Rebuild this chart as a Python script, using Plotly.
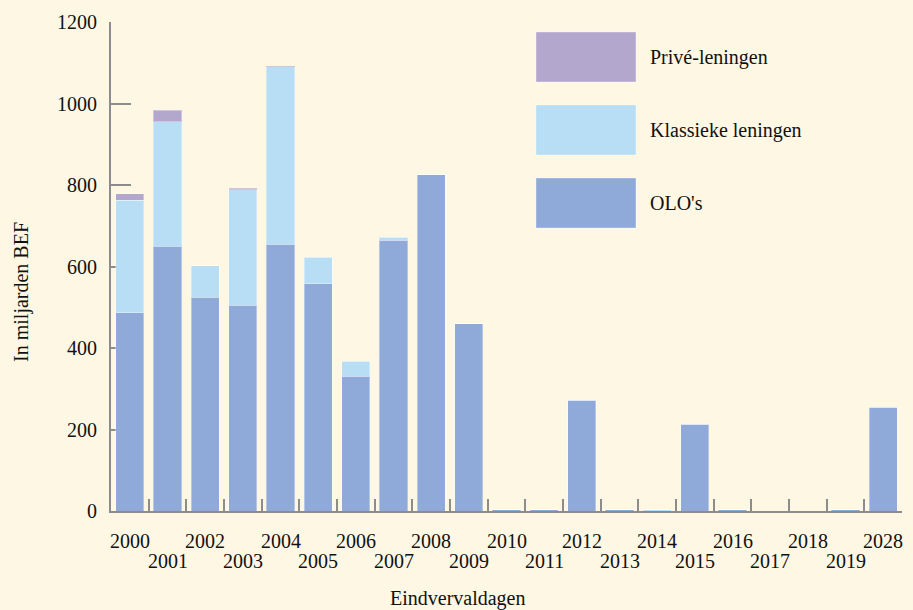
import plotly.graph_objects as go

years = ["2000", "2001", "2002", "2003", "2004", "2005", "2006", "2007", "2008", "2009",
         "2010", "2011", "2012", "2013", "2014", "2015", "2016", "2017", "2018", "2019", "2028"]
olo = [486, 650, 525, 505, 655, 558, 331, 665, 825, 459,
       3, 3, 272, 3, 0, 213, 3, 0, 0, 3, 255]
klassiek = [277, 305, 77, 283, 435, 65, 37, 7, 0, 0,
            0, 0, 0, 0, 3, 0, 0, 0, 0, 0, 0]
prive = [15, 29, 0, 4, 2, 0, 0, 0, 0, 0,
         0, 0, 0, 0, 0, 0, 0, 0, 0, 0, 0]
y_ticks = [0, 200, 400, 600, 800, 1000, 1200]

series_names = ["OLO's", "Klassieke leningen", "Privé-leningen"]
colors = ["#8FA9D8", "#B7DEF5", "#B4A7CD"]
BG = "#FEF7E3"
FONT = "Liberation Serif"
AXIS = "#8C8C8C"

fig = go.Figure()
for name, vals, col in zip(series_names, [olo, klassiek, prive], colors):
    fig.add_trace(go.Bar(x=years, y=vals, name=name, marker_color=col,
                         marker_line=dict(color="rgba(255,255,255,0.35)", width=1),
                         showlegend=False))

# staggered tick labels (x given as category index)
annotations = []
for i, yr in enumerate(years):
    annotations.append(dict(x=i, xref="x", y=0, yref="paper", text=yr, showarrow=False,
                            yanchor="middle", xanchor="center",
                            yshift=-30 if i % 2 == 0 else -50,
                            font=dict(family=FONT, size=20, color="#111")))

annotations.append(dict(x=0.4387, xref="paper", y=0, yref="paper", text="Eindvervaldagen",
                        showarrow=False, yanchor="middle", xanchor="center", yshift=-87,
                        font=dict(family=FONT, size=20, color="#111")))
annotations.append(dict(x=0, xref="paper", y=0.448, yref="paper", text="In miljarden BEF",
                        showarrow=False, textangle=-90, yanchor="middle", xanchor="center",
                        xshift=-89, font=dict(family=FONT, size=20, color="#111")))

# legend as large swatches
shapes = []
leg_rows = [("Privé-leningen", colors[2], 0.8773, 0.9796, 0.9284),
            ("Klassieke leningen", colors[1], 0.7280, 0.8303, 0.7791),
            ("OLO's", colors[0], 0.5787, 0.6810, 0.6299)]
for label, col, y0, y1, yc in leg_rows:
    shapes.append(dict(type="rect", xref="paper", yref="paper", x0=0.5373, x1=0.6637,
                       y0=y0, y1=y1, fillcolor=col,
                       line=dict(color="rgba(255,255,255,0.35)", width=1)))
    annotations.append(dict(x=0.6789, xref="paper", y=yc, yref="paper", text=label,
                            showarrow=False, xanchor="left", yanchor="middle",
                            font=dict(family=FONT, size=20, color="#111")))

fig.update_layout(
    barmode="stack", bargap=0.25,
    width=913, height=610,
    margin=dict(l=111, r=11, t=22, b=99),
    paper_bgcolor=BG, plot_bgcolor=BG,
    font=dict(family=FONT, size=20, color="#111"),
    shapes=shapes, annotations=annotations,
    xaxis=dict(type="category", categoryarray=years, range=[-0.5, len(years) - 0.5],
               showticklabels=False, ticks="inside", tickson="boundaries", ticklen=12,
               tickwidth=2, tickcolor=AXIS, showline=True, linecolor=AXIS, linewidth=2,
               showgrid=False, zeroline=False, layer="below traces", fixedrange=True),
    yaxis=dict(range=[0, 1200], tickvals=y_ticks, ticks="inside", ticklen=20, tickwidth=2,
               tickcolor=AXIS, showline=True, linecolor=AXIS, linewidth=2, showgrid=False,
               zeroline=False, layer="below traces", tickfont=dict(family=FONT, size=20, color="#111"),
               ticklabelstandoff=8, fixedrange=True),
)

fig.write_html("out.html", config={"displayModeBar": False},
               post_script="document.body.style.margin='0';document.body.style.background='" + BG + "';")
